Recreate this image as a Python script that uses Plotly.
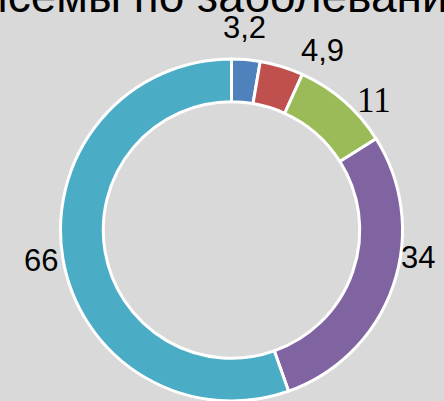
import plotly.graph_objects as go

values = [3.2, 4.9, 11, 34, 66]
labels = ["A", "B", "C", "D", "E"]
colors = ["#4F81BD", "#C0504D", "#9BBB59", "#8064A2", "#4BACC6"]
text_labels = [("%g" % v).replace(".", ",") for v in values]
title_text = "Тисемы по заболеванию"

W, H = 444, 401
cx, cy, r = 231.5, 230, 171
# label centres (pixels) and fonts
label_pos = [(244, 28), (322, 51), (374, 100), (418, 257), (41, 260)]
fonts = ["Liberation Sans", "Liberation Sans", "Liberation Serif", "Liberation Sans", "Liberation Sans"]
sizes = [31, 31, 35, 31, 31]

fig = go.Figure(go.Pie(
    values=values, labels=labels,
    textinfo="none",
    sort=False, direction="clockwise", rotation=0, hole=0.75,
    marker=dict(colors=colors, line=dict(color="white", width=3)),
    showlegend=False, hoverinfo="skip",
    domain=dict(x=[(cx - r) / W, (cx + r) / W], y=[(H - cy - r) / H, (H - cy + r) / H]),
))
for t, (px, py), f, s in zip(text_labels, label_pos, fonts, sizes):
    fig.add_annotation(text=t, xref="paper", yref="paper", x=px / W, y=1 - py / H,
                       xanchor="center", yanchor="middle", showarrow=False,
                       font=dict(family=f, size=s, color="black"))
fig.add_annotation(text=title_text, xref="paper", yref="paper", x=-46 / W, y=1,
                   xanchor="left", yanchor="middle", yshift=4, showarrow=False,
                   font=dict(family="Liberation Sans", size=46, color="black"))
fig.update_layout(width=W, height=H, margin=dict(l=0, r=0, t=0, b=0),
                  paper_bgcolor="#D9D9D9", plot_bgcolor="#D9D9D9")
fig.write_html("out.html")
